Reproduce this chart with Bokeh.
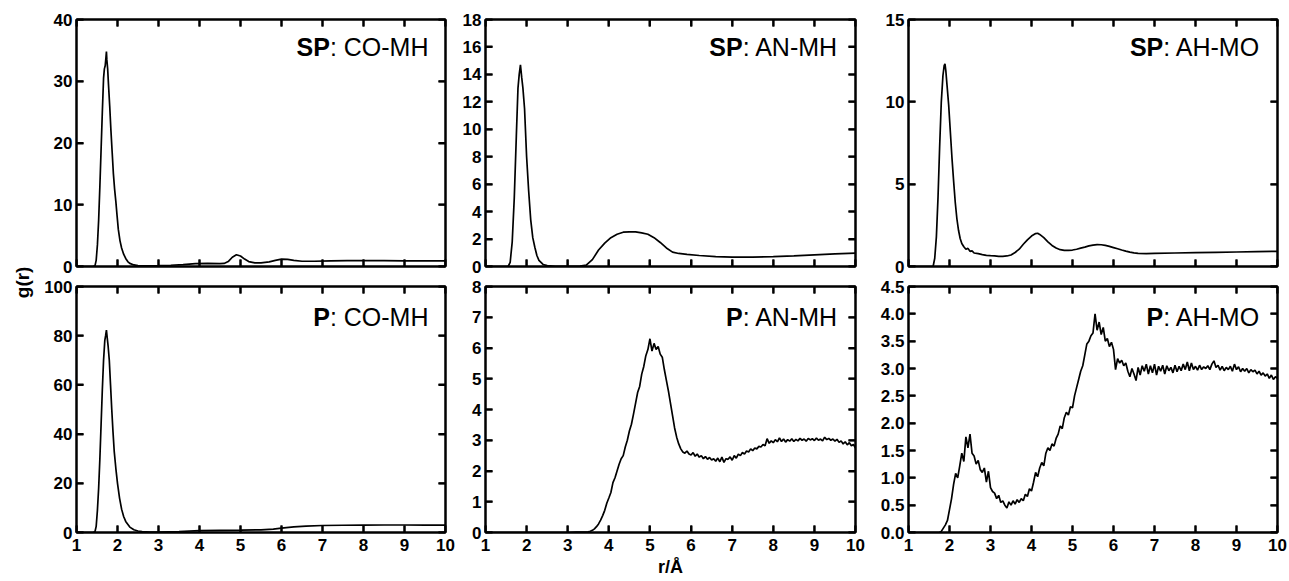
import math
from bokeh.plotting import figure
from bokeh.models import Range1d, FixedTicker, LinearAxis, CustomJSTickFormatter, PrintfTickFormatter
from bokeh.layouts import row, column
from bokeh.embed import file_html
from bokeh.resources import INLINE
from bokeh.core.properties import value

FONT = "Liberation Sans"

# ---------------- data ----------------
x_ticks = [1, 2, 3, 4, 5, 6, 7, 8, 9, 10]

# SP: CO-MH
r1 = [1.0, 1.40, 1.45, 1.48, 1.51, 1.54, 1.57, 1.60, 1.63, 1.66,
      1.68, 1.70, 1.72, 1.73, 1.74, 1.76, 1.78, 1.81, 1.84, 1.87,
      1.90, 1.93, 1.96, 1.99, 2.02, 2.06, 2.10, 2.15, 2.20, 2.25,
      2.30, 2.40, 2.50, 2.70, 3.00, 3.30, 3.60, 3.90, 4.20, 4.50,
      4.60, 4.70, 4.80, 4.90, 5.00, 5.10, 5.20, 5.35, 5.50, 5.70,
      5.85, 6.00, 6.15, 6.30, 6.50, 6.80, 7.20, 7.60, 8.00, 8.50,
      9.00, 9.50, 10.0]
g1 = [0, 0, 0.1, 1.0, 3.5, 7.5, 13, 19, 25, 30.5,
      32, 32.5, 34, 34.8, 33.5, 32, 29.5, 26, 22, 18.5,
      15, 12.5, 10.5, 8.2, 6.0, 4.2, 3.0, 2.0, 1.3, 0.8,
      0.5, 0.25, 0.15, 0.12, 0.15, 0.2, 0.3, 0.45, 0.5, 0.45,
      0.5, 0.8, 1.5, 1.9, 1.7, 1.2, 0.8, 0.6, 0.6, 0.75,
      1.0, 1.2, 1.15, 1.0, 0.85, 0.85, 0.9, 0.95, 0.95, 0.95,
      0.9, 0.9, 0.9]
y1_ticks = [0, 10, 20, 30, 40]

# SP: AN-MH
r2 = [1.0, 1.55, 1.60, 1.65, 1.70, 1.75, 1.79, 1.82, 1.85, 1.88,
      1.91, 1.95, 2.00, 2.05, 2.10, 2.15, 2.20, 2.25, 2.30, 2.40,
      2.50, 2.70, 3.00, 3.30, 3.45, 3.60, 3.75, 3.90, 4.05, 4.20,
      4.35, 4.50, 4.65, 4.80, 4.95, 5.10, 5.25, 5.40, 5.55, 5.70,
      5.90, 6.20, 6.60, 7.00, 7.50, 8.00, 8.50, 9.00, 9.50, 10.0]
g2 = [0, 0, 0.3, 1.8, 5.0, 9.5, 13.0, 14.0, 14.7, 13.8,
      13.0, 11.5, 8.0, 5.5, 3.4, 2.1, 1.4, 0.8, 0.45, 0.15,
      0.06, 0.02, 0.01, 0.03, 0.1, 0.5, 1.2, 1.7, 2.1, 2.35,
      2.5, 2.52, 2.52, 2.45, 2.35, 2.1, 1.75, 1.35, 1.05, 0.95,
      0.88, 0.8, 0.72, 0.68, 0.68, 0.72, 0.78, 0.85, 0.92, 0.98]
y2_ticks = [0, 2, 4, 6, 8, 10, 12, 14, 16, 18]

# SP: AH-MO
r3 = [1.0, 1.60, 1.64, 1.68, 1.72, 1.76, 1.80, 1.84, 1.87, 1.89,
      1.91, 1.94, 1.98, 2.02, 2.06, 2.10, 2.14, 2.18, 2.22, 2.26,
      2.30, 2.35, 2.40, 2.45, 2.50, 2.55, 2.60, 2.70, 2.80, 2.90,
      3.00, 3.10, 3.20, 3.30, 3.40, 3.50, 3.60, 3.70, 3.80, 3.90,
      4.00, 4.10, 4.15, 4.20, 4.30, 4.40, 4.50, 4.60, 4.70, 4.80,
      4.90, 5.00, 5.10, 5.20, 5.30, 5.40, 5.50, 5.60, 5.70, 5.80,
      5.90, 6.00, 6.10, 6.20, 6.30, 6.40, 6.50, 6.60, 6.80, 7.00,
      7.50, 8.00, 8.50, 9.00, 9.50, 10.0]
g3 = [0, 0, 0.5, 1.8, 4.2, 7.3, 10.0, 11.6, 12.2, 12.3,
      11.9, 11.0, 9.8, 8.2, 6.6, 5.2, 3.9, 2.9, 2.2, 1.7,
      1.4, 1.2, 1.05, 1.1, 0.92, 0.95, 0.82, 0.78, 0.72, 0.68,
      0.66, 0.65, 0.62, 0.62, 0.64, 0.70, 0.85, 1.05, 1.35, 1.62,
      1.85, 2.0, 2.02, 1.95, 1.75, 1.5, 1.28, 1.12, 1.02, 0.98,
      0.98, 1.0, 1.05, 1.12, 1.18, 1.25, 1.3, 1.33, 1.32, 1.28,
      1.22, 1.15, 1.08, 1.0, 0.93, 0.87, 0.83, 0.8, 0.78, 0.8,
      0.82, 0.84, 0.86, 0.88, 0.9, 0.92]
y3_ticks = [0, 5, 10, 15]

# P: CO-MH
r4 = [1.0, 1.40, 1.45, 1.48, 1.51, 1.54, 1.57, 1.60, 1.63, 1.66,
      1.69, 1.71, 1.73, 1.75, 1.77, 1.80, 1.83, 1.86, 1.89, 1.92,
      1.96, 2.00, 2.05, 2.10, 2.15, 2.20, 2.30, 2.40, 2.50, 2.60,
      2.80, 3.00, 3.50, 4.00, 4.50, 5.00, 5.50, 5.80, 6.00, 6.30,
      6.60, 7.00, 7.50, 8.00, 8.50, 9.00, 9.50, 10.0]
g4 = [0, 0, 0.3, 2.5, 9, 18, 30, 44, 58, 70,
      78, 80, 82.3, 79, 76, 70, 60, 50, 41, 33,
      26, 20, 14, 9.5, 6.5, 4.5, 2.2, 1.1, 0.6, 0.35,
      0.2, 0.2, 0.4, 0.8, 0.9, 0.95, 1.1, 1.4, 1.8, 2.3,
      2.6, 2.85, 2.95, 3.0, 3.05, 3.05, 3.0, 3.0]
y4_ticks = [0, 20, 40, 60, 80, 100]

# P: AN-MH
r5 = [1.0, 2.5, 3.0, 3.2, 3.4,
      3.50, 3.55, 3.60, 3.65, 3.70, 3.75, 3.80, 3.85, 3.90, 3.95,
      4.00, 4.05, 4.10, 4.15, 4.20, 4.25, 4.30, 4.35, 4.40, 4.45,
      4.50, 4.55, 4.60, 4.65, 4.70, 4.75, 4.80, 4.85, 4.90, 4.95,
      5.00, 5.05, 5.10, 5.15, 5.20, 5.25, 5.30, 5.35, 5.40, 5.45,
      5.50, 5.55, 5.60, 5.65, 5.70, 5.75, 5.80, 5.85, 5.90, 5.95,
      6.00, 6.05, 6.10, 6.15, 6.20, 6.25, 6.30, 6.35, 6.40, 6.45,
      6.50, 6.55, 6.60, 6.65, 6.70, 6.75, 6.80, 6.85, 6.90, 6.95,
      7.00, 7.05, 7.10, 7.15, 7.20, 7.25, 7.30, 7.35, 7.40, 7.45,
      7.50, 7.55, 7.60, 7.65, 7.70, 7.75, 7.80, 7.85, 7.90, 7.95,
      8.00, 8.05, 8.10, 8.15, 8.20, 8.25, 8.30, 8.35, 8.40, 8.45,
      8.50, 8.55, 8.60, 8.65, 8.70, 8.75, 8.80, 8.85, 8.90, 8.95,
      9.00, 9.05, 9.10, 9.15, 9.20, 9.25, 9.30, 9.35, 9.40, 9.45,
      9.50, 9.55, 9.60, 9.65, 9.70, 9.75, 9.80, 9.85, 9.90, 9.95,
      10.0]
g5 = [0, 0, 0, 0.01, 0.01,
      0.02, 0.04, 0.07, 0.12, 0.19, 0.28, 0.40, 0.55, 0.72, 0.95,
      1.12, 1.30, 1.62, 1.78, 2.00, 2.22, 2.40, 2.50, 2.78, 3.00,
      3.30, 3.52, 3.85, 4.20, 4.55, 4.75, 5.15, 5.40, 5.75, 5.95,
      6.30, 5.90, 6.15, 5.95, 6.05, 5.80, 5.70, 5.30, 4.95, 4.60,
      4.20, 3.80, 3.40, 3.10, 2.88, 2.72, 2.62, 2.58, 2.65, 2.55,
      2.52, 2.60, 2.48, 2.55, 2.45, 2.50, 2.40, 2.47, 2.38, 2.44,
      2.36, 2.40, 2.32, 2.42, 2.30, 2.45, 2.28, 2.40, 2.38, 2.46,
      2.35, 2.50, 2.42, 2.55, 2.50, 2.60, 2.55, 2.65, 2.62, 2.72,
      2.66, 2.75, 2.72, 2.80, 2.78, 2.86, 2.82, 3.05, 2.90, 2.98,
      2.92, 3.02, 2.95, 3.08, 2.96, 3.04, 2.94, 3.02, 2.97, 3.05,
      2.96, 3.03, 2.98, 3.06, 3.00, 3.04, 2.97, 3.06, 3.01, 3.05,
      2.99, 3.07, 3.00, 3.04, 2.98, 3.10, 3.02, 3.06, 3.00, 3.04,
      2.97, 3.03, 2.93, 2.98, 2.88, 2.95, 2.85, 2.92, 2.82, 2.86,
      2.75]
y5_ticks = [0, 1, 2, 3, 4, 5, 6, 7, 8]

# P: AH-MO
r6 = [1.0, 1.5, 1.75,
      1.80, 1.85, 1.90, 1.95,
      2.00, 2.05, 2.10, 2.15, 2.20, 2.25, 2.30, 2.35, 2.40, 2.45,
      2.50, 2.55, 2.60, 2.65, 2.70, 2.75, 2.80, 2.85, 2.90, 2.95,
      3.00, 3.05, 3.10, 3.15, 3.20, 3.25, 3.30, 3.35, 3.40, 3.45,
      3.50, 3.55, 3.60, 3.65, 3.70, 3.75, 3.80, 3.85, 3.90, 3.95,
      4.00, 4.05, 4.10, 4.15, 4.20, 4.25, 4.30, 4.35, 4.40, 4.45,
      4.50, 4.55, 4.60, 4.65, 4.70, 4.75, 4.80, 4.85, 4.90, 4.95,
      5.00, 5.05, 5.10, 5.15, 5.20, 5.25, 5.30, 5.35, 5.40, 5.45,
      5.50, 5.55, 5.60, 5.65, 5.70, 5.75, 5.80, 5.85, 5.90, 5.95,
      6.00, 6.05, 6.10, 6.15, 6.20, 6.25, 6.30, 6.35, 6.40, 6.45,
      6.50, 6.55, 6.60, 6.65, 6.70, 6.75, 6.80, 6.85, 6.90, 6.95,
      7.00, 7.05, 7.10, 7.15, 7.20, 7.25, 7.30, 7.35, 7.40, 7.45,
      7.50, 7.55, 7.60, 7.65, 7.70, 7.75, 7.80, 7.85, 7.90, 7.95,
      8.00, 8.05, 8.10, 8.15, 8.20, 8.25, 8.30, 8.35, 8.40, 8.45,
      8.50, 8.55, 8.60, 8.65, 8.70, 8.75, 8.80, 8.85, 8.90, 8.95,
      9.00, 9.05, 9.10, 9.15, 9.20, 9.25, 9.30, 9.35, 9.40, 9.45,
      9.50, 9.55, 9.60, 9.65, 9.70, 9.75, 9.80, 9.85, 9.90, 9.95,
      10.0]
g6 = [0, 0, 0,
      0.02, 0.08, 0.14, 0.22,
      0.42, 0.62, 0.88, 1.08, 1.00, 1.22, 1.45, 1.30, 1.75, 1.55,
      1.80, 1.45, 1.40, 1.25, 1.32, 1.15, 1.10, 1.18, 0.92, 1.12,
      0.82, 0.75, 0.72, 0.62, 0.68, 0.55, 0.58, 0.50, 0.45, 0.56,
      0.50, 0.58, 0.52, 0.60, 0.55, 0.62, 0.58, 0.70, 0.66, 0.80,
      0.76, 0.92, 1.10, 1.02, 1.18, 1.28, 1.22, 1.45, 1.55, 1.50,
      1.62, 1.58, 1.72, 1.80, 1.95, 1.90, 2.10, 2.20, 2.15, 2.30,
      2.28, 2.50, 2.65, 2.80, 2.95, 3.05, 3.25, 3.45, 3.50, 3.60,
      3.65, 4.00, 3.70, 3.85, 3.62, 3.75, 3.50, 3.55, 3.40, 3.48,
      3.35, 2.98, 3.18, 3.10, 3.15, 3.05, 3.10, 2.95, 2.85, 3.00,
      2.90, 2.78, 3.02, 2.88, 3.05, 2.95, 3.08, 2.90, 3.05, 2.92,
      3.08, 2.88, 3.04, 2.95, 3.06, 2.90, 3.05, 2.96, 3.02, 2.92,
      3.06, 2.94, 3.04, 2.96, 3.08, 2.98, 3.12, 2.96, 3.10, 2.98,
      3.04, 2.97, 3.06, 2.98, 3.03, 3.00, 3.05, 2.98, 3.08, 3.14,
      3.02, 3.06, 2.97, 3.04, 2.96, 3.02, 2.98, 3.04, 2.95, 3.08,
      2.98, 3.03, 2.94, 3.00, 2.95, 3.00, 2.92, 2.98, 2.94, 2.97,
      2.90, 2.95, 2.88, 2.92, 2.86, 2.90, 2.82, 2.88, 2.80, 2.85,
      2.82]
y6_ticks = [0, 0.5, 1.0, 1.5, 2.0, 2.5, 3.0, 3.5, 4.0, 4.5]

titles_bold = ["SP", "SP", "SP", "P", "P", "P"]
titles_rest = [": CO-MH", ": AN-MH", ": AH-MO", ": CO-MH", ": AN-MH", ": AH-MO"]
x_label = "r/Å"
y_label = "g(r)"

# ---------------- layout helpers ----------------
# Arial / Liberation Sans regular advance widths (1/1000 em)
ADV = {":": 278, " ": 278, "C": 722, "O": 778, "-": 333, "M": 833,
       "H": 722, "A": 667, "N": 722}
TITLE_SIZE = 25
TICK_LEN = 7


def text_width(s, size):
    return sum(ADV.get(c, 600) for c in s) * size / 1000.0


def style_axis(ax, ticks, labels=True, fmt=None):
    ax.ticker = FixedTicker(ticks=ticks)
    ax.axis_line_color = "black"
    ax.axis_line_width = 2
    ax.major_tick_in = TICK_LEN
    ax.major_tick_out = 0
    ax.major_tick_line_width = 2
    ax.major_tick_line_color = "black"
    ax.minor_tick_line_color = None
    ax.major_label_text_font = FONT
    ax.major_label_text_font_style = "bold"
    ax.major_label_text_color = "black"
    if labels:
        ax.major_label_text_font_size = "17px"
        ax.major_label_standoff = 4
        if fmt is not None:
            ax.formatter = fmt
    else:
        ax.major_label_text_font_size = "0px"
        ax.major_label_standoff = 0
        ax.formatter = CustomJSTickFormatter(code="return ''")


WIDTHS = [421, 410, 423]
LEFTS = [42, 30, 43]
RIGHTS = [10, 10, 11]


def make_panel(idx, r, g, ymax, yticks, fmt=None):
    col = idx % 3
    bottom = idx >= 3
    p = figure(width=WIDTHS[col], height=304 if bottom else 276,
               x_range=Range1d(1, 10), y_range=Range1d(0, ymax),
               toolbar_location=None, output_backend="svg",
               min_border_left=LEFTS[col], min_border_right=RIGHTS[col],
               min_border_top=10 if bottom else 19,
               min_border_bottom=48 if bottom else 10)
    xax = p.below[0]
    yax = p.left[0]
    p.xgrid.visible = False
    p.ygrid.visible = False
    p.outline_line_color = "black"
    p.outline_line_width = 2
    p.outline_line_alpha = 1.0
    p.background_fill_color = "white"
    p.border_fill_color = "white"

    if bottom:
        style_axis(xax, x_ticks, labels=True)
        xax.major_label_standoff = 6
        xax.axis_label = x_label if col == 1 else " "
        xax.axis_label_text_font = FONT
        xax.axis_label_text_font_style = "bold"
        xax.axis_label_text_font_size = "18px"
        xax.axis_label_text_color = "black"
        xax.axis_label_standoff = 3
    else:
        style_axis(xax, x_ticks, labels=False)
    style_axis(yax, yticks, labels=True, fmt=fmt)

    top_ax = LinearAxis()
    style_axis(top_ax, x_ticks, labels=False)
    p.add_layout(top_ax, "above")
    right_ax = LinearAxis()
    style_axis(right_ax, yticks, labels=False)
    p.add_layout(right_ax, "right")

    # inward tick marks on all four frame edges (half of each dash is clipped by the frame)
    n_x = len(x_ticks)
    n_y = len(yticks)
    p.scatter(x=x_ticks + x_ticks, y=[0] * n_x + [ymax] * n_x, marker="dash",
              angle=math.pi / 2, size=2 * TICK_LEN, line_color="black", line_width=2)
    p.scatter(x=[1] * n_y + [10] * n_y, y=list(yticks) + list(yticks), marker="dash",
              size=2 * TICK_LEN, line_color="black", line_width=2)

    p.line(r, g, line_color="black", line_width=1.7)

    rest = titles_rest[idx]
    w_rest = text_width(rest, TITLE_SIZE)
    yoff = 30 if bottom else 27
    p.text(x=[10], y=[ymax], text=[rest], text_font=value(FONT),
           text_font_size="25px", text_align="right", text_baseline="alphabetic",
           x_offset=-17, y_offset=yoff, text_color="black")
    p.text(x=[10], y=[ymax], text=[titles_bold[idx]], text_font=value(FONT),
           text_font_style="bold", text_font_size="25px", text_align="right",
           text_baseline="alphabetic", x_offset=-(17 + w_rest), y_offset=yoff,
           text_color="black")
    return p


p1 = make_panel(0, r1, g1, 40, y1_ticks)
p2 = make_panel(1, r2, g2, 18, y2_ticks)
p3 = make_panel(2, r3, g3, 15, y3_ticks)
p4 = make_panel(3, r4, g4, 100, y4_ticks)
p5 = make_panel(4, r5, g5, 8, y5_ticks)
p6 = make_panel(5, r6, g6, 4.5, y6_ticks, fmt=PrintfTickFormatter(format="%.1f"))

# left strip carrying the shared y label
gfig = figure(width=34, height=580, x_range=Range1d(0, 1), y_range=Range1d(0, 1),
              toolbar_location=None, output_backend="svg",
              x_axis_location=None, y_axis_location=None,
              min_border=0, min_border_left=0, min_border_right=0,
              min_border_top=0, min_border_bottom=0)
gfig.outline_line_color = None
gfig.xgrid.visible = False
gfig.ygrid.visible = False
gfig.text(x=[0.65], y=[0.514], text=[y_label], angle=math.pi / 2,
          text_font=value(FONT), text_font_style="bold", text_font_size="19px",
          text_align="center", text_baseline="middle", text_color="black")

layout = row(gfig, column(row(p1, p2, p3), row(p4, p5, p6)))

open("out.html", "w").write(file_html(layout, INLINE))
